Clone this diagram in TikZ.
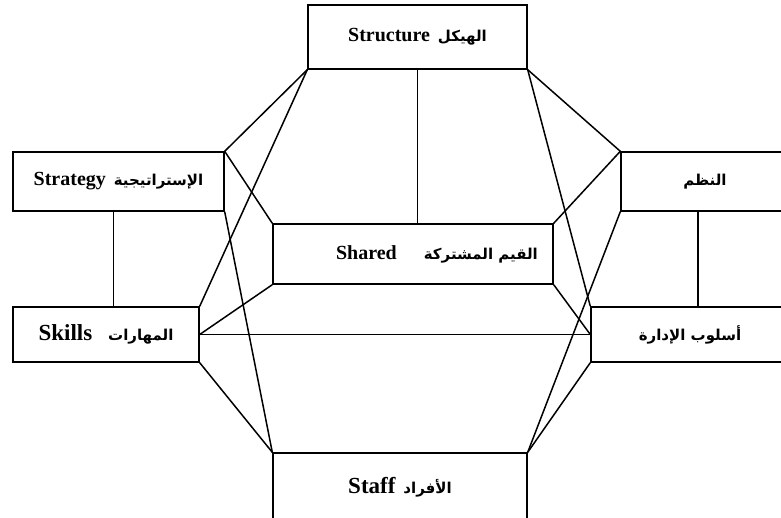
\documentclass[tikz,border=0pt]{standalone}
\usepackage{fontspec}
\setmainfont{Liberation Serif}
\newfontfamily\arabicfont[Script=Arabic]{DejaVu Sans}
\TeXXeTstate=1
\usetikzlibrary{
    positioning,
    calc
}
\newcommand{\artext}[1]{{\arabicfont\bfseries\fontsize{15}{20}\selectfont\beginR #1\endR}}
\tikzset{
    block/.style = {
        rectangle,
        draw,
        line width=1.4pt,
        inner sep=0pt,
        align=center,
        font=\fontsize{20}{24}\selectfont\bfseries
    },
    bigblock/.style = {
        block,
        font=\fontsize{23}{26}\selectfont\bfseries
    },
    link/.style = {
        line width=1.5pt
    }
}

\begin{document}
\begin{tikzpicture}[x=1pt,y=-1pt]
\useasboundingbox (0,0) rectangle (781,518);
\clip (0,0) rectangle (781,518);

% the seven boxes
\node[block, minimum width=219pt, minimum height=64pt] (structure) at (417.5,37)
    {Structure\hspace{8pt}\artext{الهيكل}};
\node[block, minimum width=211pt, minimum height=59pt] (strategy) at (118.5,181.5)
    {Strategy\hspace{8pt}\artext{الإستراتيجية}};
\node[block, minimum width=168pt, minimum height=59pt] (systems) at (705,181.5)
    {\artext{النظم}};
\node[block, minimum width=280pt, minimum height=60pt] (shared) at (413,254)
    {\hspace*{48pt}Shared\hspace{27pt}\artext{القيم المشتركة}};
\node[bigblock, minimum width=186pt, minimum height=55pt] (skills) at (106,334.5)
    {Skills\hspace{16pt}\artext{المهارات}};
\node[block, minimum width=198pt, minimum height=55pt] (style) at (690,334.5)
    {\artext{أسلوب الإدارة}};
\node[bigblock, minimum width=254pt, minimum height=69pt] (staff) at (400,487.5)
    {Staff\hspace{8pt}\artext{الأفراد}};

% straight links between the boxes
\draw[link] (structure.south) -- (structure.south |- shared.north);
\draw[link] ([xshift=-5pt]strategy.south) -- ([xshift=-5pt]strategy.south |- skills.north);
\draw[link] ([xshift=-7pt]systems.south) -- ([xshift=-7pt]systems.south |- style.north);

% left side
\draw[link] (structure.south west) -- (strategy.north east);
\draw[link] (structure.south west) -- (skills.north east);
\draw[link] (strategy.north east) -- (shared.north west);
\draw[link] (strategy.south east) -- (staff.north west);
\draw[link] (skills.south east) -- (staff.north west);
\draw[link] (skills.east) -- (shared.south west);
\draw[link] (skills.east) -- (style.west);

% right side
\draw[link] (structure.south east) -- (systems.north west);
\draw[link] (structure.south east) -- (style.north west);
\draw[link] (systems.north west) -- (shared.north east);
\draw[link] (systems.south west) -- (staff.north east);
\draw[link] (style.south west) -- (staff.north east);
\draw[link] (shared.south east) -- (style.west);
\end{tikzpicture}
\end{document}
